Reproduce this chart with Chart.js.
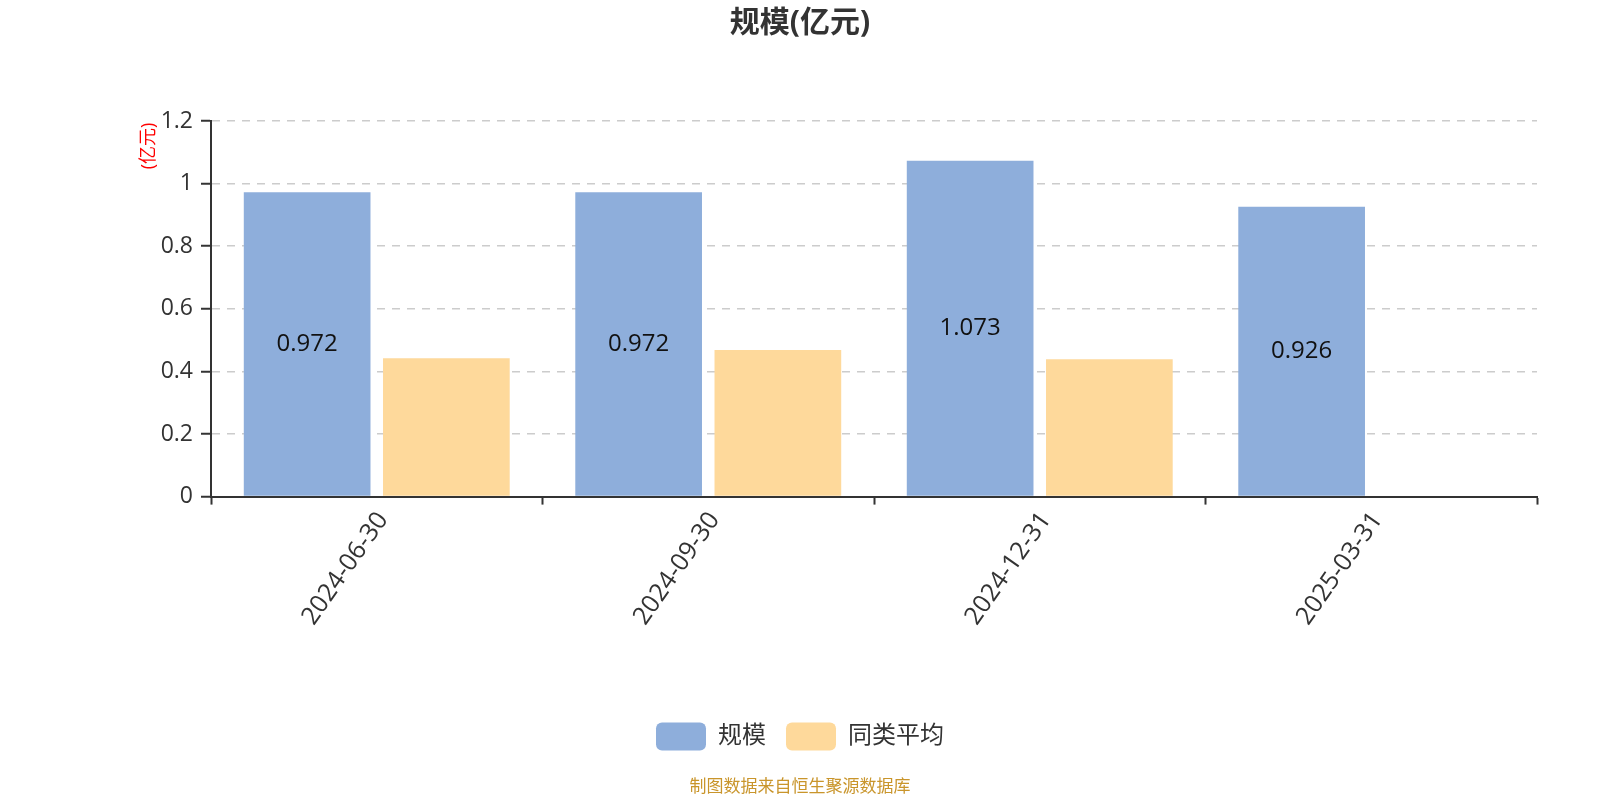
<!DOCTYPE html>
<html lang="zh">
<head>
  <meta charset="UTF-8">
  <title>规模(亿元)</title>
  <script src="https://cdn.jsdelivr.net/npm/chart.js"></script>
  <style>
    html, body { margin: 0; padding: 0; background: #fff; }
    #wrap { width: 1600px; height: 800px; }
  </style>
</head>
<body>
  <div id="wrap"><canvas id="chart" width="1600" height="800"></canvas></div>

  <script>
    // data
    const categories = ['2024-06-30', '2024-09-30', '2024-12-31', '2025-03-31'];
    const scaleValues = [0.972, 0.972, 1.073, 0.926];      // 规模
    const peerAvgValues = [0.442, 0.468, 0.439, null];     // 同类平均
    const yTicks = [0, 0.2, 0.4, 0.6, 0.8, 1, 1.2];

    const FONT = "'Open Sans', 'Noto Sans CJK SC', sans-serif";

    // value labels in the middle of the blue bars
    const barLabels = {
      id: 'barLabels',
      afterDatasetsDraw(chart) {
        const ctx = chart.ctx;
        const meta = chart.getDatasetMeta(0);
        ctx.save();
        ctx.font = '24px ' + FONT;
        ctx.fillStyle = '#111';
        ctx.textAlign = 'center';
        ctx.textBaseline = 'middle';
        meta.data.forEach((bar, i) => {
          const v = scaleValues[i];
          if (v == null) return;
          ctx.fillText(v.toFixed(3), bar.x, (bar.y + bar.base) / 2);
        });
        ctx.restore();
      }
    };

    // red unit label near the top of the y axis
    const unitLabel = {
      id: 'unitLabel',
      afterDraw(chart) {
        const ctx = chart.ctx;
        const area = chart.chartArea;
        ctx.save();
        ctx.translate(area.left - 62, area.top + 25);
        ctx.rotate(-Math.PI / 2);
        ctx.font = '18px ' + FONT;
        ctx.fillStyle = '#ff0000';
        ctx.textAlign = 'center';
        ctx.textBaseline = 'middle';
        ctx.fillText('(亿元)', 0, 0);
        ctx.restore();
      }
    };

    new Chart(document.getElementById('chart'), {
      type: 'bar',
      data: {
        labels: categories,
        datasets: [
          {
            label: '规模',
            data: scaleValues,
            backgroundColor: '#8eaedb',
            borderWidth: 0,
            categoryPercentage: 0.84,
            barPercentage: 0.91
          },
          {
            label: '同类平均',
            data: peerAvgValues,
            backgroundColor: '#fed99b',
            borderWidth: 0,
            categoryPercentage: 0.84,
            barPercentage: 0.91
          }
        ]
      },
      options: {
        responsive: false,
        animation: false,
        // equal side padding keeps title / legend centred on the page
        layout: { padding: { left: 63, right: 63, top: 0, bottom: 0 } },
        plugins: {
          title: {
            display: true,
            text: '规模(亿元)',
            color: '#333',
            font: { family: FONT, size: 30, weight: 'bold' },
            padding: { top: 5, bottom: 80 }
          },
          subtitle: {
            display: true,
            position: 'bottom',
            text: '制图数据来自恒生聚源数据库',
            color: '#c9952b',
            font: { family: FONT, size: 17 },
            padding: { top: 16, bottom: 3 }
          },
          legend: {
            position: 'bottom',
            labels: {
              boxWidth: 50,
              boxHeight: 28,
              useBorderRadius: true,
              borderRadius: 6,
              padding: 20,
              color: '#333',
              font: { family: FONT, size: 24 }
            }
          },
          tooltip: { enabled: false }
        },
        scales: {
          x: {
            offset: true,
            afterFit(scale) { scale.height = 206; },
            grid: {
              offset: true,
              drawOnChartArea: false,
              drawTicks: true,
              tickLength: 8,
              tickColor: '#333',
              tickWidth: 2
            },
            border: { color: '#333', width: 2 },
            ticks: {
              color: '#333',
              font: { family: FONT, size: 25 },
              minRotation: 55,
              maxRotation: 55,
              labelOffset: 6,
              padding: 2
            }
          },
          y: {
            min: 0,
            max: 1.2,
            afterFit(scale) { scale.width = 148; },
            afterBuildTicks(scale) { scale.ticks = yTicks.map(v => ({ value: v })); },
            grid: {
              color: '#cccccc',
              lineWidth: 1.5,
              tickLength: 10,
              tickColor: '#333',
              tickWidth: 2
            },
            border: { color: '#333', width: 2, dash: [8, 7] },
            ticks: {
              color: '#333',
              padding: 8,
              font: { family: FONT, size: 23 },
              callback: v => String(v)
            }
          }
        }
      },
      plugins: [barLabels, unitLabel]
    });
  </script>
</body>
</html>
